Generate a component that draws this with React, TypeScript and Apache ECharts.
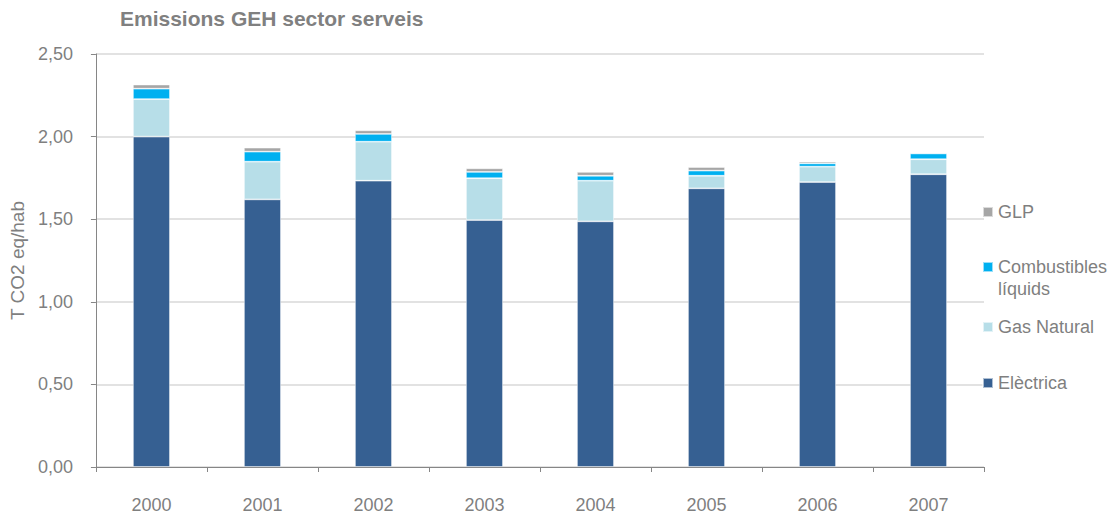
import React, { useEffect, useRef } from "react";
import * as echarts from "echarts";

const years = ["2000", "2001", "2002", "2003", "2004", "2005", "2006", "2007"];
const electrica = [2.0, 1.62, 1.733, 1.495, 1.487, 1.687, 1.725, 1.772];
const gasNatural = [0.227, 0.228, 0.236, 0.253, 0.246, 0.076, 0.093, 0.091];
const combustiblesLiquids = [0.063, 0.061, 0.047, 0.038, 0.03, 0.031, 0.02, 0.035];
const glp = [0.025, 0.024, 0.022, 0.022, 0.023, 0.022, 0.01, 0.003];

const seriesNames = ["Elèctrica", "Gas Natural", "Combustibles líquids", "GLP"];
const seriesColors = ["#366092", "#B7DEE8", "#00B0F0", "#A6A6A6"];
const seriesData = [electrica, gasNatural, combustiblesLiquids, glp];

const FONT = "Liberation Sans, Arial, sans-serif";
const TEXT_GREY = "#7F7F7F";

export default function App() {
  const ref = useRef<HTMLDivElement>(null);
  useEffect(() => {
    if (!ref.current) return;
    const chart = echarts.init(ref.current, undefined, { renderer: "svg" });
    const legendTops = [197, 252, 312, 368];
    const legendOrder = ["GLP", "Combustibles líquids", "Gas Natural", "Elèctrica"];
    chart.setOption({
      animation: false,
      textStyle: { fontFamily: FONT },
      title: {
        text: "Emissions GEH sector serveis",
        left: 115,
        top: 3,
        textStyle: { fontSize: 21, fontWeight: "bold", color: "#808080", fontFamily: FONT },
      },
      legend: legendOrder.map((name, i) => ({
        data: [name],
        orient: "vertical",
        left: 977,
        top: legendTops[i],
        itemWidth: 10,
        itemHeight: 10,
        itemGap: 4,
        icon: "rect",
        formatter: (n: string) => (n === "Combustibles líquids" ? "Combustibles" : n),
        textStyle: { fontSize: 18, color: TEXT_GREY, fontFamily: FONT, lineHeight: 20 },
        selectedMode: false,
      })),
      graphic: [
        {
          type: "text",
          left: 998,
          top: 280,
          style: { text: "líquids", fontSize: 18, fill: TEXT_GREY, fontFamily: FONT },
        },
      ],
      grid: { left: 93, right: 135, top: 54, bottom: 49 },
      xAxis: {
        type: "category",
        data: years,
        boundaryGap: true,
        axisLine: { lineStyle: { color: "#868686", width: 1 } },
        axisTick: { show: true, alignWithLabel: false, length: 5, lineStyle: { color: "#868686" } },
        axisLabel: { fontSize: 18, color: TEXT_GREY, margin: 29, fontFamily: FONT },
      },
      yAxis: {
        type: "value",
        min: 0,
        max: 2.5,
        interval: 0.5,
        name: "T CO2 eq/hab",
        nameLocation: "middle",
        nameRotate: 90,
        nameGap: 64,
        nameTextStyle: { fontSize: 19, color: TEXT_GREY, fontFamily: FONT },
        axisLine: { show: true, lineStyle: { color: "#868686", width: 1 } },
        axisTick: { show: true, length: 5, lineStyle: { color: "#868686" } },
        axisLabel: {
          fontSize: 18,
          color: TEXT_GREY,
          margin: 23,
          fontFamily: FONT,
          formatter: (v: number) => v.toFixed(2).replace(".", ","),
        },
        splitLine: { show: true, lineStyle: { color: "#D9D9D9", width: 1.5 } },
      },
      series: seriesNames.map((name, i) => ({
        name,
        type: "bar",
        stack: "total",
        barWidth: 37,
        data: seriesData[i],
        itemStyle: { color: seriesColors[i], borderColor: "rgba(255,255,255,0.6)", borderWidth: 0.8 },
      })),
    });
    return () => chart.dispose();
  }, []);
  return (
    <div
      ref={ref}
      style={{ position: "fixed", left: 0, top: 0, width: 1119, height: 516, background: "#fff" }}
    />
  );
}
